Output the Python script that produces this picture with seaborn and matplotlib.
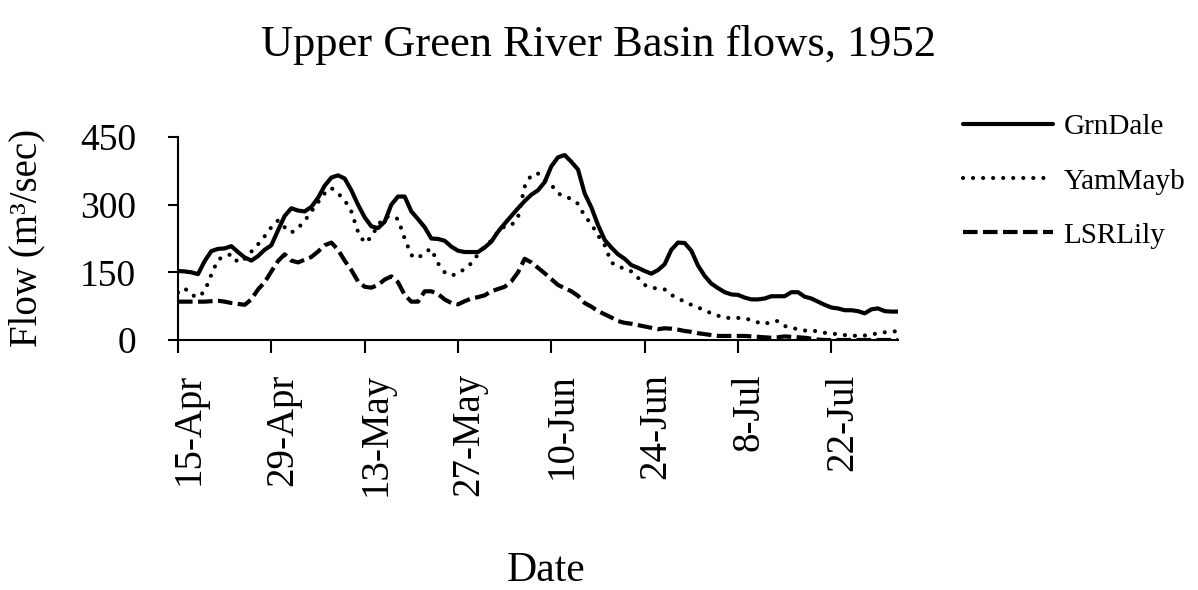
import numpy as np
import pandas as pd
import matplotlib
matplotlib.use('Agg')
import matplotlib.pyplot as plt
import matplotlib.transforms as mtransforms
import seaborn as sns

# daily flows (m3/sec), 15 Apr - 1 Aug 1952
start_date = '1952-04-15'
tick_labels = ['15-Apr', '29-Apr', '13-May', '27-May', '10-Jun', '24-Jun', '8-Jul', '22-Jul']
series_names = ['GrnDale', 'YamMayb', 'LSRLily']

grn_dale = [153, 152, 150, 146, 175, 197, 202, 203, 208, 195,
            183, 176, 186, 200, 210, 243, 275, 292, 287, 285,
            295, 315, 342, 360, 365, 358, 332, 300, 272, 252,
            248, 262, 300, 318, 318, 285, 268, 250, 225, 224,
            220, 207, 198, 195, 195, 195, 205, 218, 240, 258,
            275, 292, 308, 322, 332, 350, 385, 405, 410, 395,
            378, 325, 294, 255, 222, 205, 190, 180, 166, 160,
            153, 147, 155, 168, 200, 216, 215, 198, 165, 142,
            125, 115, 106, 101, 100, 94, 90, 90, 92, 97,
            97, 97, 106, 106, 96, 92, 85, 78, 72, 70,
            66, 66, 64, 59, 68, 70, 64, 63, 63]

yam_mayb = [105, 115, 100, 95, 108, 145, 178, 186, 190, 172,
            180, 196, 212, 230, 250, 265, 250, 238, 248, 264,
            285, 305, 325, 337, 325, 310, 285, 240, 215, 228,
            255, 272, 275, 268, 225, 188, 181, 195, 202, 170,
            150, 143, 147, 158, 170, 190, 208, 220, 240, 252,
            254, 272, 340, 366, 369, 355, 344, 325, 318, 313,
            302, 275, 257, 232, 210, 172, 162, 159, 152, 138,
            122, 116, 114, 112, 100, 92, 85, 78, 72, 66,
            59, 54, 49, 49, 49, 48, 44, 39, 35, 41,
            42, 31, 27, 24, 21, 21, 19, 16, 14, 13,
            11, 10, 9, 10, 12, 15, 17, 19, 19]

lsr_lily = [85, 85, 85, 85, 85, 86, 87, 85, 82, 80,
            78, 90, 112, 128, 152, 175, 190, 176, 172, 178,
            184, 196, 210, 216, 200, 176, 155, 130, 118, 116,
            122, 134, 141, 128, 100, 85, 85, 108, 108, 102,
            90, 82, 79, 86, 92, 95, 99, 108, 113, 118,
            130, 150, 180, 172, 160, 148, 135, 122, 115, 108,
            98, 82, 74, 64, 57, 50, 42, 38, 36, 33,
            30, 27, 24, 26, 25, 23, 20, 18, 15, 13,
            11, 9, 9, 9, 9, 9, 8, 7, 6, 5,
            6, 8, 7, 6, 5, 3, 1, 0, 0, 0,
            0, 0, 0, 0, 0, 0, 0, 0, 0]

dates = pd.date_range(start_date, periods=len(grn_dale), freq='D')
df = pd.DataFrame({'Date': dates, 'GrnDale': grn_dale,
                   'YamMayb': yam_mayb, 'LSRLily': lsr_lily})

sns.set_style('ticks')
plt.rcParams['font.family'] = ['Liberation Serif', 'DejaVu Serif']
plt.rcParams['text.color'] = 'black'

fig = plt.figure(figsize=(11.98, 5.9), dpi=100)
ax = fig.add_axes([178 / 1198, 1 - 340 / 590, 720 / 1198, 203 / 590])

styles = {
    'GrnDale': dict(linestyle='-'),
    'YamMayb': dict(linestyle=(0, (0.01, 2.4)), dash_capstyle='round'),
    'LSRLily': dict(linestyle=(0, (3.5, 1.3)), dash_capstyle='butt'),
}
for name in series_names:
    sns.lineplot(data=df, x='Date', y=name, ax=ax, color='black', lw=3,
                 label=name, **styles[name])

ax.set_xlim(dates[0], dates[-1])
ax.set_ylim(0, 450)
ax.set_yticks([0, 150, 300, 450])
ax.set_xticks(dates[::14][:len(tick_labels)])
ax.set_xticklabels(tick_labels, rotation=90)
ax.set_xlabel('')
ax.set_ylabel('')
ax.tick_params(axis='x', length=9, width=1.5, pad=15, labelsize=28,
               colors='black', labelcolor='black')
ax.tick_params(axis='y', length=7, width=1.5, pad=23, labelsize=27,
               colors='black', labelcolor='black')
for lab in ax.get_xticklabels():
    lab.set_transform(lab.get_transform() +
                      mtransforms.ScaledTranslation(8 / 72, 0, fig.dpi_scale_trans))
sns.despine(ax=ax)
for s in ['left', 'bottom']:
    ax.spines[s].set_linewidth(1.5)
    ax.spines[s].set_color('black')

leg = ax.get_legend()
if leg is not None:
    leg.remove()
handles, labels = ax.get_legend_handles_labels()
fig.legend(handles, labels, loc='upper left', bbox_to_anchor=(963 / 1198, 1 - 114 / 590),
           frameon=False, fontsize=21, handlelength=3.1, handletextpad=0.35,
           labelspacing=0.95, borderpad=0, borderaxespad=0, labelcolor='black')

fig.text(0.5, 1 - 45 / 590, 'Upper Green River Basin flows, 1952',
         ha='center', va='center', fontsize=32, color='black')
fig.text(27 / 1198, 1 - 238 / 590, 'Flow (m³/sec)', rotation=90,
         ha='center', va='center', fontsize=28, color='black')
fig.text(546 / 1198, 1 - 571 / 590, 'Date', ha='center', va='center',
         fontsize=30, color='black')

fig.savefig('out.png', dpi=100)
